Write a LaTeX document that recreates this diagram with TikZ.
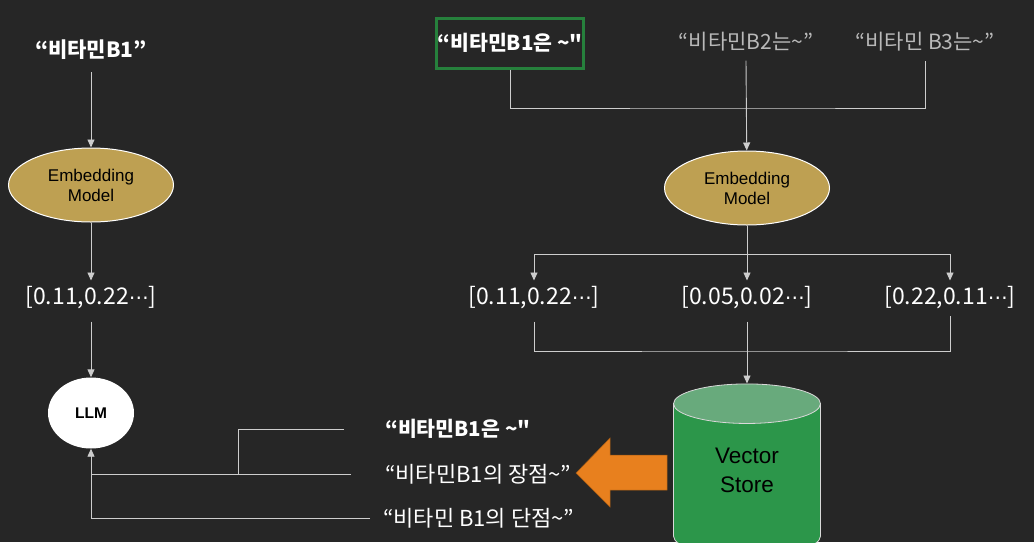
\documentclass[tikz,border=0pt]{standalone}
\usepackage{fontspec}
\setmainfont{Liberation Sans}
\newfontfamily\kr{Noto Sans CJK KR}
\newfontfamily\dv{DejaVu Sans}
\usetikzlibrary{arrows.meta,shapes.geometric}

\definecolor{bgdark}{RGB}{38,38,38}
\definecolor{linegray}{RGB}{205,205,205}
\definecolor{embgold}{RGB}{190,160,82}
\definecolor{boxgreen}{RGB}{38,128,60}
\definecolor{storegreen}{RGB}{44,150,74}
\definecolor{storetop}{RGB}{104,170,124}
\definecolor{arrorange}{RGB}{232,128,30}
\definecolor{dimtext}{RGB}{185,185,185}

\newcommand{\tl}{\textasciitilde}
\newcommand{\cdts}{{\dv\fontsize{20}{24}\selectfont ⋯}}

\begin{document}
\begin{tikzpicture}[x=1pt, y=-1pt, >={Triangle[width=7pt,length=8pt]},
    line/.style={draw=linegray, line width=0.9pt},
    emb/.style={ellipse, draw=white, fill=embgold, line width=1pt,
        minimum width=165pt, minimum height=74pt, inner sep=0pt,
        align=center, text=black, font=\fontsize{17}{20}\selectfont},
    quote/.style={text=white, inner xsep=0pt, inner ysep=9pt,
        font=\kr\bfseries\fontsize{21}{25}\selectfont},
    dim/.style={text=dimtext, inner xsep=0pt, inner ysep=9pt,
        font=\kr\fontsize{21}{25}\selectfont},
    vec/.style={text=white, inner xsep=0pt, inner ysep=6pt,
        font=\kr\fontsize{23}{27}\selectfont},
    res/.style={text=white, inner sep=0pt, anchor=west,
        font=\kr\fontsize{22}{26}\selectfont},
    llmnode/.style={ellipse, fill=white, minimum width=86pt, minimum height=71pt,
        inner sep=0pt, text=black, font=\bfseries\fontsize{15.5}{18}\selectfont},
    store/.style={cylinder, shape border rotate=90, aspect=0.62,
        draw=white!85!black, line width=0.8pt, cylinder uses custom fill,
        cylinder body fill=storegreen, cylinder end fill=storetop,
        minimum width=147pt, minimum height=172pt, inner sep=0pt,
        align=center, text=black, font=\fontsize{22.5}{29}\selectfont}]

\fill[bgdark] (0,0) rectangle (1034,542);
\useasboundingbox (0,0) rectangle (1034,542);

% left: query side
\node[quote] (q) at (91,50) {“비타민B1”};
\node[emb] (emb1) at (91,185) {Embedding\\Model};
\node[vec] (vq) at (91,298) {[0.11,0.22\cdts]};
\node[llmnode] (llm) at (91,413) {LLM};

\draw[line,->,shorten <=3pt] (q) -- (emb1);
\draw[line,->] (emb1) -- (vq);
\draw[line,->,shorten <=6pt] (vq) -- (llm);

% right: documents
\node[quote, draw=boxgreen, line width=3pt, inner xsep=1pt,
    font=\kr\bfseries\fontsize{20.5}{25}\selectfont,
    minimum width=146pt, minimum height=50pt] (d1) at (510,43) {“비타민B1은 \tl"};
\node[dim] (d2) at (746,42) {“비타민B2는\tl”};
\node[dim] (d3) at (925,42) {“비타민 B3는\tl”};
\node[emb] (emb2) at (747,188) {Embedding\\Model};

\coordinate (jt) at (747,108);
\draw[line] (d1.south) |- (jt) -| (d3.south);
\draw[line,->] (d2.south) -- (emb2);

\node[vec] (v1) at (534,298) {[0.11,0.22\cdts]};
\node[vec] (v2) at (747,298) {[0.05,0.02\cdts]};
\node[vec] (v3) at (950,298) {[0.22,0.11\cdts]};

\coordinate (js) at (747,254);
\draw[line] (v1 |- js) -- (v3 |- js);
\draw[line,->] (emb2) -- (v2);
\draw[line,->] (v1 |- js) -- (v1);
\draw[line,->] (v3 |- js) -- (v3);

\node[store] (vs) at (747,480) {Vector\\Store\rule[-20pt]{0pt}{1pt}};

\coordinate (jb) at (747,351);
\draw[line,shorten <=6pt] (v1) |- (jb) -| (v3);
\draw[line,->,shorten <=6pt] (v2) -- (vs);

% retrieved chunks
\node[res, font=\kr\bfseries\fontsize{20.5}{25}\selectfont] (s1) at (385,429) {“비타민B1은 \tl"};
\node[res] (s2) at (385,474) {“비타민B1의 장점\tl”};
\node[res] (s3) at (383,518) {“비타민 B1의 단점\tl”};

\draw[fill=arrorange, draw=arrorange!70!black, line width=0.5pt]
    (667,455) -- (610,455) -- (610,438) -- (576,473)
    -- (610,507) -- (610,490) -- (667,490) -- cycle;

\coordinate (jm) at (238,474);
\draw[line,shorten <=41pt] (s1.west) -| (jm);
\draw[line,shorten <=34pt] (s2.west) -- (s2.west -| llm);
\draw[line,->,shorten <=13pt] (s3.west) -| (llm);

\end{tikzpicture}
\end{document}
